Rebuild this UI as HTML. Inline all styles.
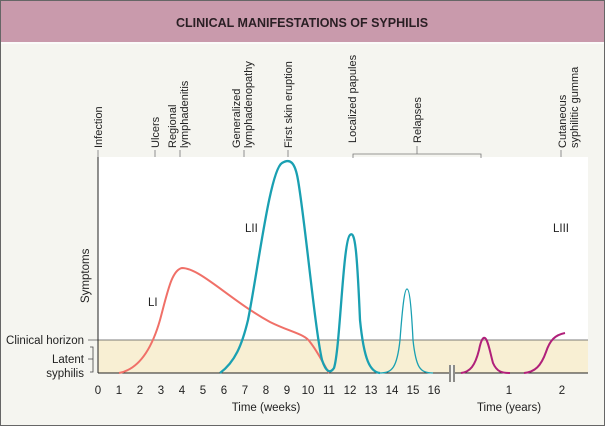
<!DOCTYPE html>
<html><head><style>
html,body{margin:0;padding:0;background:#f5f5f0;}
svg{display:block;font-family:"Liberation Sans",Arial,sans-serif;}
</style></head><body>
<svg width="605" height="426" viewBox="0 0 605 426" xmlns="http://www.w3.org/2000/svg">
<rect x="0" y="0" width="605" height="426" fill="#f5f5f0"/>
<rect x="0" y="0" width="605" height="42" fill="#c99aac"/>
<rect x="0" y="42" width="605" height="2" fill="#fbfbfa"/>
<rect x="0.5" y="0.5" width="604" height="425" fill="none" stroke="#666" stroke-width="1"/>
<text x="302" y="27" text-anchor="middle" font-size="12.5" font-weight="bold" fill="#2a1f24">CLINICAL MANIFESTATIONS OF SYPHILIS</text>

<rect x="98" y="157" width="490" height="216" fill="#ffffff"/>
<rect x="98" y="340" width="490" height="33" fill="#f8efd3"/>
<line x1="88" y1="340" x2="588" y2="340" stroke="#555" stroke-width="0.8"/>
<line x1="98" y1="157" x2="98" y2="373" stroke="#222" stroke-width="1"/>
<line x1="98" y1="373" x2="588" y2="373" stroke="#222" stroke-width="1"/>
<rect x="449" y="365" width="6" height="18" fill="#f5f5f0"/>
<line x1="450" y1="365" x2="450" y2="382" stroke="#222"/>
<line x1="454" y1="365" x2="454" y2="382" stroke="#222"/>

<g font-size="11.5" fill="#222" text-anchor="middle">
<text x="98" y="394">0</text><text x="119" y="394">1</text><text x="140" y="394">2</text><text x="161" y="394">3</text>
<text x="182" y="394">4</text><text x="203" y="394">5</text><text x="224" y="394">6</text><text x="245" y="394">7</text>
<text x="266" y="394">8</text><text x="287" y="394">9</text><text x="308" y="394">10</text><text x="329" y="394">11</text>
<text x="350" y="394">12</text><text x="371" y="394">13</text><text x="392" y="394">14</text><text x="413" y="394">15</text>
<text x="434" y="394">16</text>
<text x="509" y="394">1</text><text x="562" y="394">2</text>
<text x="266" y="411">Time (weeks)</text>
<text x="509" y="411">Time (years)</text>
</g>

<g font-size="11.5" fill="#222">
<text x="84" y="344" text-anchor="end">Clinical horizon</text>
<text x="84" y="363" text-anchor="end">Latent</text>
<text x="84" y="377" text-anchor="end">syphilis</text>
<text transform="translate(89,303) rotate(-90)">Symptoms</text>
<text x="148" y="306">LI</text>
<text x="245" y="232">LII</text>
<text x="553" y="232">LIII</text>
</g>
<path d="M90,347 L93,347 L93,372 L90,372 M93,359 L88,359" fill="none" stroke="#444" stroke-width="0.8"/>

<g font-size="11" fill="#222">
<text transform="translate(102,148) rotate(-90)">Infection</text>
<text transform="translate(159,148) rotate(-90)">Ulcers</text>
<text transform="translate(176,148) rotate(-90)">Regional</text>
<text transform="translate(188,148) rotate(-90)">lymphadenitis</text>
<text transform="translate(240,148) rotate(-90)">Generalized</text>
<text transform="translate(252,148) rotate(-90)">lymphadenopathy</text>
<text transform="translate(292,148) rotate(-90)">First skin eruption</text>
<text transform="translate(356,143) rotate(-90)">Localized papules</text>
<text transform="translate(421,143) rotate(-90)">Relapses</text>
<text transform="translate(566,148) rotate(-90)">Cutaneous</text>
<text transform="translate(578,148) rotate(-90)">syphilitic gumma</text>
</g>
<g stroke="#777" stroke-width="0.8">
<line x1="98" y1="150" x2="98" y2="157"/>
<line x1="155" y1="150" x2="155" y2="157"/>
<line x1="180" y1="150" x2="180" y2="157"/>
<line x1="244" y1="150" x2="244" y2="157"/>
<line x1="288" y1="150" x2="288" y2="157"/>
<line x1="561" y1="150" x2="561" y2="157"/>
<path d="M353,158 L353,154 L481,154 L481,158 M417,154 L417,146" fill="none"/>
</g>

<path d="M119,373 C135,370 150,355 160,320 C168,290 172,270 182,268 C200,268 230,300 270,322 C290,332 305,334 310,342 C318,352 324,365 329,373" fill="none" stroke="#f07068" stroke-width="2"/>
<path d="M220,373 C235,362 242,345 248,320 C258,270 270,170 282,163 C290,158 295,162 298,180 C305,220 315,330 322,360 C326,372 330,374 334,368 C340,350 343,240 350,235 C355,230 357,250 360,320 C364,360 370,372 380,373" fill="none" stroke="#1aa0b2" stroke-width="2.3"/>
<path d="M380,373 C392,373 397,368 400,340 C403,300 405,289 407,289 C409,289 411,300 413,340 C416,368 420,373 433,373" fill="none" stroke="#1aa0b2" stroke-width="1.3"/>
<path d="M461,373 C470,372 475,366 479,350 C481,340 483,337 485,338 C488,340 490,352 493,363 C497,372 502,373 510,373" fill="none" stroke="#b0207a" stroke-width="2"/>
<path d="M524,373 C535,372 541,366 546,352 C550,340 555,335 565,333" fill="none" stroke="#b0207a" stroke-width="2"/>
</svg>
</body></html>
